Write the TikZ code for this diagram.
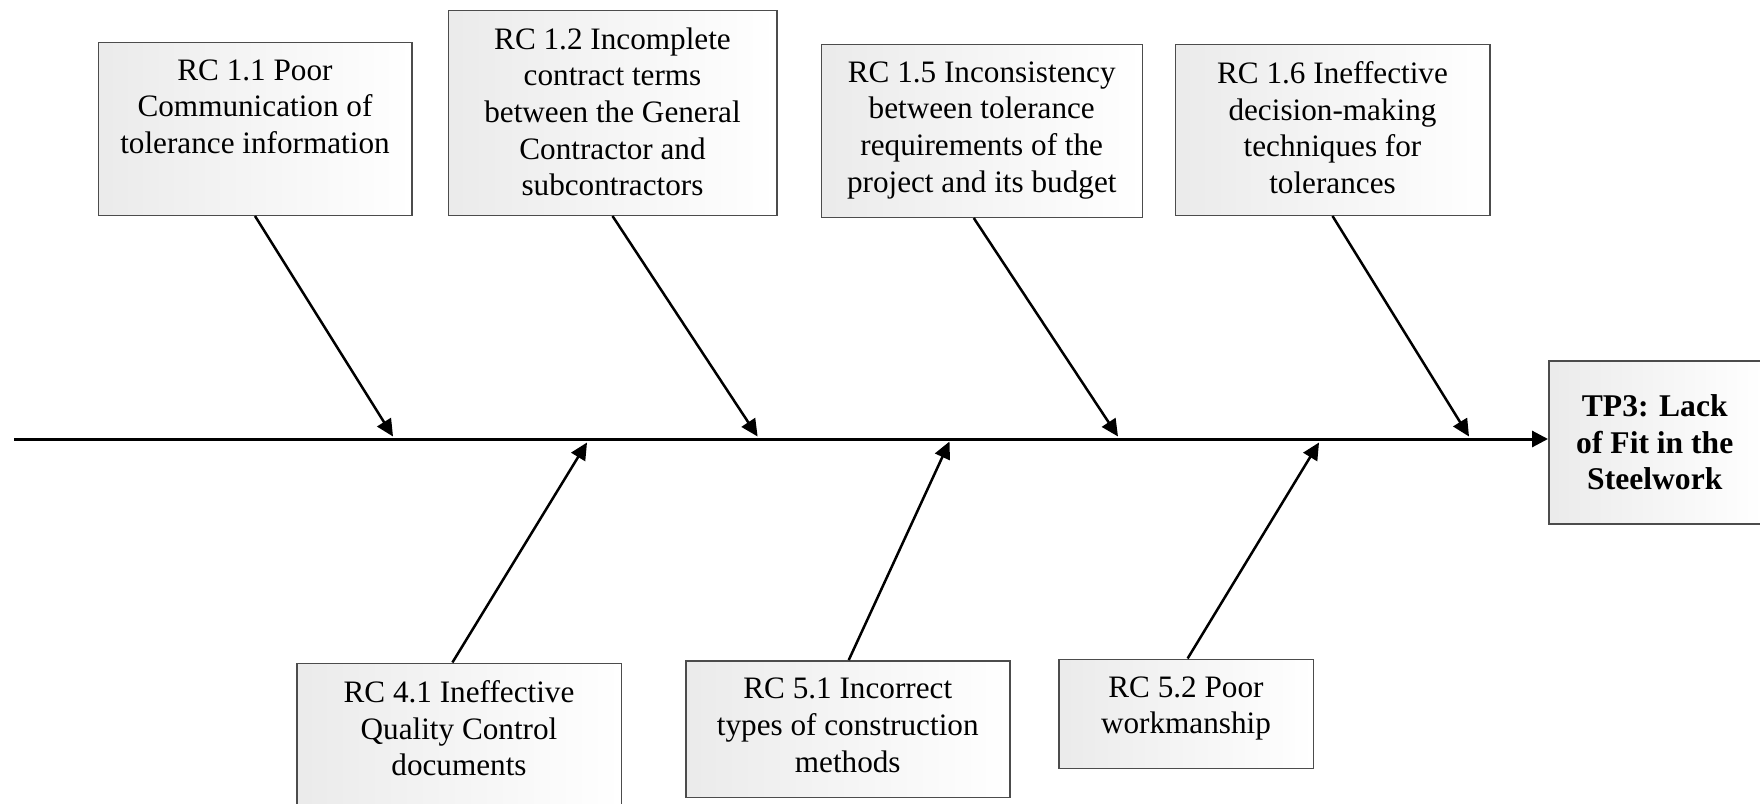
\documentclass[tikz,border=0pt]{standalone}
\usepackage{fontspec}
\setmainfont{Liberation Serif}
\usetikzlibrary{arrows.meta}
\begin{document}
\begin{tikzpicture}[x=0.5pt,y=-0.5pt,
  box/.style={draw=black!70, line width=0.75pt, left color=black!8, right color=white,
              inner sep=0pt, anchor=north west},
  txt/.style={font=\fontsize{15.6}{18.3}\selectfont, align=center, inner sep=0pt, anchor=north},
  bone/.style={line width=1.25pt, -{Triangle[length=8.5pt,width=8pt]}},
  spine/.style={line width=1.5pt, -{Triangle[length=8pt,width=8pt]}}]
\useasboundingbox (0,0) rectangle (1760,803);

% upper boxes
\node[box, minimum width=156.75pt, minimum height=86.5pt] (r11) at (97.5,41.5) {};
\node[box, minimum width=164.25pt, minimum height=102.5pt] (r12) at (447.5,9.5) {};
\node[box, minimum width=160.5pt, minimum height=86.5pt] (r15) at (820.5,43.5) {};
\node[box, minimum width=157.25pt, minimum height=85.5pt] (r16) at (1174.5,43.5) {};
% lower boxes
\node[box, minimum width=162.25pt, minimum height=71.75pt] (r41) at (296,662.5) {};
\node[box, minimum width=162pt, minimum height=68.25pt] (r51) at (685,660) {};
\node[box, minimum width=127.25pt, minimum height=54.5pt] (r52) at (1058,658.5) {};
% head
\node[box, minimum width=107pt, minimum height=81.5pt] (tp) at (1548,360) {};

% texts
\node[txt] (t11) at ([yshift=-8.9pt]r11.north) {RC 1.1 Poor\\Communication of\\tolerance information};
\node[txt] (t12) at ([yshift=-8.9pt]r12.north) {RC 1.2 Incomplete\\contract terms\\between the General\\Contractor and\\subcontractors};
\node[txt] (t15) at ([yshift=-8.9pt]r15.north) {RC 1.5 Inconsistency\\between tolerance\\requirements of the\\project and its budget};
\node[txt] (t16) at ([yshift=-8.9pt]r16.north) {RC 1.6 Ineffective\\decision-making\\techniques for\\tolerances};
\node[txt] (t41) at ([yshift=-8.9pt]r41.north) {RC 4.1 Ineffective\\Quality Control\\documents};
\node[txt] (t51) at ([yshift=-8.9pt]r51.north) {RC 5.1 Incorrect\\types of construction\\methods};
\node[txt] (t52) at ([yshift=-8.9pt]r52.north) {RC 5.2 Poor\\workmanship};
\node[txt, anchor=center, font=\bfseries\fontsize{15.8}{18.3}\selectfont] (ttp) at ([xshift=-0.5pt]tp.center) {TP3: Lack\\of Fit in the\\Steelwork};

% spine
\coordinate (s0) at (14,439);
\draw[spine] (s0) -- (s0 -| tp.west);

% arrow tips on the spine
\coordinate (p11) at (393,436.5);
\coordinate (p12) at (757.6,436.5);
\coordinate (p15) at (1118,436.5);
\coordinate (p16) at (1469,436.5);
\coordinate (q41) at (587,442.5);
\coordinate (q51) at (949.5,441.5);
\coordinate (q52) at (1319,442.5);

\draw[bone] (r11.south) -- (p11);
\draw[bone] (r12.south) -- (p12);
\draw[bone] ([xshift=-4pt]r15.south) -- (p15);
\draw[bone] (r16.south) -- (p16);
\draw[bone] ([xshift=-3.3pt]r41.north) -- (q41);
\draw[bone] ([xshift=0.5pt]r51.north) -- (q51);
\draw[bone] ([xshift=0.8pt]r52.north) -- (q52);
\end{tikzpicture}
\end{document}
